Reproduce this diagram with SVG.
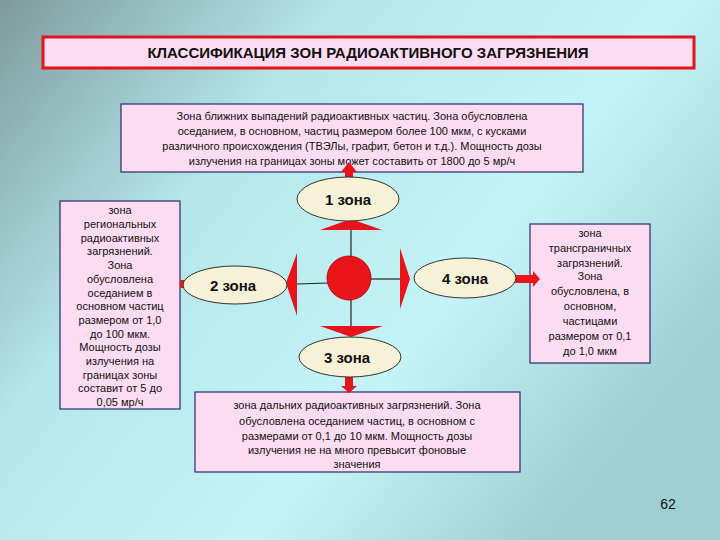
<svg xmlns="http://www.w3.org/2000/svg" width="720" height="540" viewBox="0 0 720 540">
<defs>
<linearGradient id="bg" x1="0" y1="0" x2="1" y2="0.6">
<stop offset="0" stop-color="#7f9a9c"/><stop offset="0.35" stop-color="#b4e6ea"/><stop offset="0.7" stop-color="#c4f4f8"/><stop offset="1" stop-color="#9fcfd3"/>
</linearGradient>
<style>
.box{fill:#fcdcf0;stroke:#2a2a6a;stroke-width:1.2}
.t{font-family:"Liberation Sans",Arial,sans-serif;font-size:11px;fill:#111;text-anchor:middle}
.el{fill:#f6f2d8;stroke:#333;stroke-width:1}
.ez{font-family:"Liberation Sans",Arial,sans-serif;font-size:15px;font-weight:bold;fill:#111;text-anchor:middle}
.red{fill:#e8141a}
.ln{stroke:#222;stroke-width:1.2}
</style>
</defs>
<rect width="720" height="540" fill="url(#bg)"/>
<g id="title"><rect x="43" y="37" width="651" height="31" fill="#fcdcf0" stroke="#e0141a" stroke-width="3"/>
<text x="368" y="58" class="t" style="font-size:15px;font-weight:bold">КЛАССИФИКАЦИЯ ЗОН РАДИОАКТИВНОГО ЗАГРЯЗНЕНИЯ</text></g>
<g id="box1"><rect class="box" x="121" y="104" width="462" height="68"/>
<text class="t" x="352" y="120">Зона ближних выпадений радиоактивных частиц. Зона обусловлена</text>
<text class="t" x="352" y="135">оседанием, в основном, частиц размером более 100 мкм, с кусками</text>
<text class="t" x="352" y="150">различного происхождения (ТВЭЛы, графит, бетон и т.д.). Мощность дозы</text>
<text class="t" x="352" y="165">излучения на границах зоны может составить от 1800 до 5 мр/ч</text></g>
<g id="box2"><rect class="box" x="60" y="201" width="120" height="208"/>
<text class="t" x="120" y="214">зона</text><text class="t" x="120" y="228">региональных</text><text class="t" x="120" y="242">радиоактивных</text><text class="t" x="120" y="255">загрязнений.</text><text class="t" x="120" y="269">Зона</text><text class="t" x="120" y="283">обусловлена</text><text class="t" x="120" y="297">оседанием в</text><text class="t" x="120" y="310">основном частиц</text><text class="t" x="120" y="324">размером от 1,0</text><text class="t" x="120" y="338">до 100 мкм.</text><text class="t" x="120" y="351">Мощность дозы</text><text class="t" x="120" y="365">излучения на</text><text class="t" x="120" y="379">границах зоны</text><text class="t" x="120" y="392">составит от 5 до</text><text class="t" x="120" y="406">0,05 мр/ч</text></g>
<g id="box4"><rect class="box" x="530" y="224" width="120" height="139"/>
<text class="t" x="590" y="237">зона</text><text class="t" x="590" y="252">трансграничных</text><text class="t" x="590" y="267">загрязнений.</text><text class="t" x="590" y="280">Зона</text><text class="t" x="590" y="295">обусловлена, в</text><text class="t" x="590" y="310">основном,</text><text class="t" x="590" y="325">частицами</text><text class="t" x="590" y="340">размером от 0,1</text><text class="t" x="590" y="355">до 1,0 мкм</text></g>
<g id="box3"><rect class="box" x="195" y="392" width="325" height="80"/>
<text class="t" x="357" y="409">зона дальних радиоактивных загрязнений. Зона</text>
<text class="t" x="357" y="425">обусловлена оседанием частиц, в основном с</text>
<text class="t" x="357" y="440">размерами от 0,1 до 10 мкм. Мощность дозы</text>
<text class="t" x="357" y="454">излучения не на много превысит фоновые</text>
<text class="t" x="357" y="468">значения</text></g>
<g id="connectors">
<line class="ln" x1="351" y1="230" x2="351" y2="258"/>
<line class="ln" x1="297" y1="284" x2="328" y2="283"/>
<line class="ln" x1="370" y1="279" x2="401" y2="279"/>
<line class="ln" x1="351" y1="298" x2="351" y2="327"/>
<polygon class="red" points="320,230 382,230 351,219"/>
<polygon class="red" points="297,253 297,316 286,283"/>
<polygon class="red" points="400,248 400,309 410,279"/>
<polygon class="red" points="320,326 383,326 351,337"/>
<polygon class="red" points="345,178 345,172 341,172 349,162 357,172 353,172 353,178"/>
<rect class="red" x="180" y="280" width="14" height="8"/>
<polygon class="red" points="514,275 533,275 533,271 540,279 533,287 533,283 514,283"/>
<polygon class="red" points="345,376 353,376 353,386 357,386 349,393 341,386 345,386"/>
</g>
<g id="center"><circle cx="349" cy="278" r="22" fill="#e8141a" stroke="#a00" stroke-width="0.8"/></g>
<g id="z1"><ellipse class="el" cx="348" cy="199" rx="51" ry="22"/><text class="ez" x="348" y="205">1 зона</text></g>
<g id="z2"><ellipse class="el" cx="235" cy="285" rx="52" ry="19"/><text class="ez" x="233" y="291">2 зона</text></g>
<g id="z4"><ellipse class="el" cx="465" cy="278" rx="51" ry="20"/><text class="ez" x="465" y="284">4 зона</text></g>
<g id="z3"><ellipse class="el" cx="350" cy="357" rx="51" ry="20"/><text class="ez" x="347" y="363">3 зона</text></g>
<text x="668" y="509" style="font-family:'Liberation Sans',Arial,sans-serif;font-size:14px" fill="#111" text-anchor="middle">62</text>
</svg>
